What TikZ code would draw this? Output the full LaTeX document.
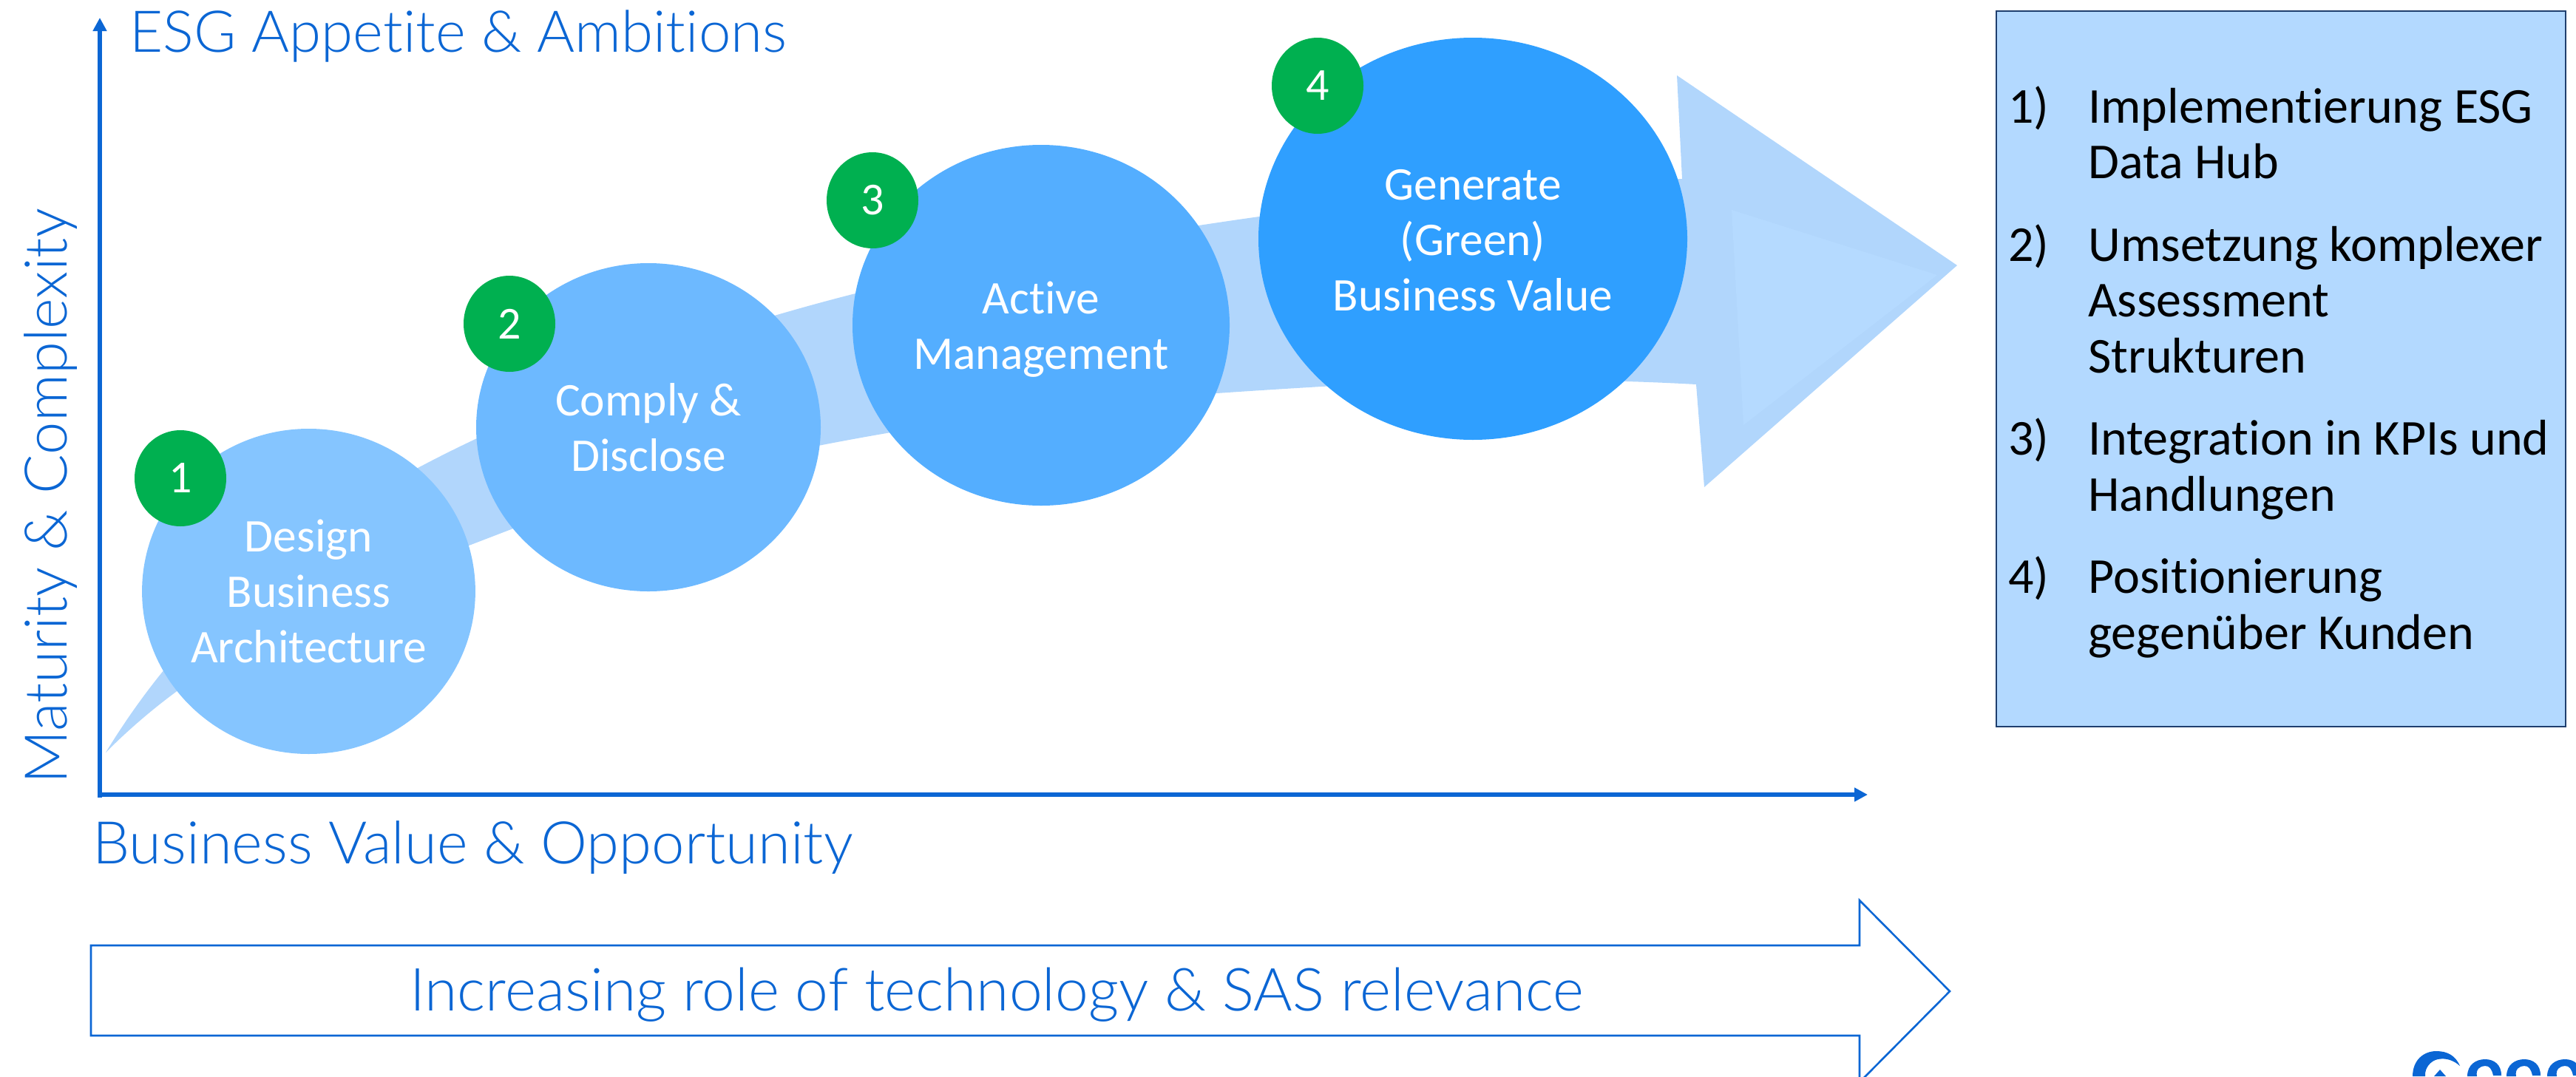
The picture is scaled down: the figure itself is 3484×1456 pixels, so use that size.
\documentclass[tikz,border=0pt]{standalone}
\usepackage{fontspec}
\setmainfont[Ligatures=NoCommon]{Carlito}
\newfontfamily\lightf[UprightFont={* Light},Ligatures=NoCommon]{Lato}
\usetikzlibrary{shapes.geometric,arrows.meta}
\definecolor{sasblue}{HTML}{0B66D4}
\definecolor{bandblue}{HTML}{B1D6FC}
\definecolor{innerblue}{HTML}{B5DAFF}
\definecolor{panelblue}{HTML}{B3D9FF}
\definecolor{panelline}{HTML}{1F3F6E}
\definecolor{stepa}{HTML}{85C5FF}
\definecolor{stepb}{HTML}{6DB9FF}
\definecolor{stepc}{HTML}{54AEFF}
\definecolor{stepd}{HTML}{2F9FFF}
\definecolor{badge}{HTML}{00B050}
\newcommand{\dropline}[2]{\raisebox{-#1}[\height][\depth]{#2}}
\tikzset{
  x=0.5pt,y=-0.5pt,
  stepnode/.style={ellipse,inner sep=0pt,align=center,text=white,font=\fontsize{31.7}{37.5}\selectfont},
  badgenode/.style={ellipse,fill=badge,inner sep=0pt,minimum width=62pt,minimum height=65pt,text=white,font=\fontsize{31}{36}\selectfont},
  axislabel/.style={text=sasblue,inner sep=0pt,font=\lightf\fontsize{39.8}{46}\selectfont},
  axisline/.style={draw=sasblue,line width=3pt,-{Triangle[length=9pt,width=9pt]}},
  listtext/.style={anchor=base west,inner sep=0pt,text=black,font=\fontsize{34}{37.5}\selectfont},
}
\begin{document}
\begin{tikzpicture}
\clip (0,0) rectangle (3484,1456);
% growing band arrow
\path[fill=bandblue] (143,1018)
  .. controls (270,810) and (440,690) .. (643,594)
  .. controls (900,440) and (1300,350) .. (1703,293)
  .. controls (1900,265) and (2100,250) .. (2275,242)
  -- (2268,102) -- (2647,359) -- (2305,659) -- (2294,520)
  .. controls (2150,512) and (2000,512) .. (1787,523)
  .. controls (1500,540) and (1350,555) .. (1205,585)
  .. controls (1000,620) and (850,660) .. (694,715)
  .. controls (500,790) and (300,860) .. cycle;
\path[fill=innerblue] (2342,284) -- (2620,372) -- (2358,575) -- cycle;
% axes
\coordinate (origin) at (135,1075);
\coordinate (ytip) at (135,24);
\coordinate (xtip) at (2526,1075);
\coordinate (ybase) at (135,1079);
\draw[axisline] (ybase) -- (ytip);
\draw[axisline] (origin) -- (xtip);
% steps
\node[stepnode,fill=stepa,minimum width=225pt,minimum height=220pt] (s1) at (417.5,800) {Design\\Business\\Architecture};
\node[stepnode,fill=stepb,minimum width=233pt,minimum height=222pt] (s2) at (877,578) {Comply \&\\Disclose};
\node[stepnode,fill=stepc,minimum width=255pt,minimum height=244pt] (s3) at (1408,440) {\dropline{2.8pt}{Active}\\\dropline{2.8pt}{Management}};
\node[stepnode,fill=stepd,minimum width=290pt,minimum height=272pt] (s4) at (1992,323) {\dropline{1.2pt}{Generate}\\\dropline{1.2pt}{(Green)}\\\dropline{1.2pt}{Business Value}};
\node[badgenode] (b1) at (244,647) {1};
\node[badgenode] (b2) at (689,438) {2};
\node[badgenode] (b3) at (1180,271) {3};
\node[badgenode] (b4) at (1782,116) {4};
% axis labels
\node[axislabel,anchor=west,font=\lightf\fontsize{39}{46}\selectfont] (ly) at (175,49) {ESG Appetite \& Ambitions};
\node[axislabel,anchor=west,rotate=90] (lx) at (69,1061) {Maturity \& Complexity};
\node[axislabel,anchor=west] (lb) at (125,1147) {Business Value \& Opportunity};
% technology arrow
\draw[sasblue,line width=1.3pt,line join=miter] (123,1279) -- (2515,1279) -- (2515,1218) -- (2637,1341) -- (2515,1464) -- (2515,1401) -- (123,1401) -- cycle;
\node[axislabel,font=\lightf\fontsize{40.2}{46}\selectfont] (tech) at (1348,1346) {Increasing role of technology \& SAS relevance};
% panel
\node[draw=panelline,fill=panelblue,line width=1.2pt,minimum width=385pt,minimum height=484pt,inner sep=0pt,anchor=north west] (panel) at (2699,14) {};
\node[listtext] (n1) at (2716,166) {1)};
\node[listtext] (t1) at (2824,166) {Implementierung ESG};
\node[listtext] (t1b) at (2824,241) {Data Hub};
\node[listtext] (n2) at (2716,353) {2)};
\node[listtext] (t2) at (2824,353) {Umsetzung komplexer};
\node[listtext] (t2b) at (2824,428) {Assessment};
\node[listtext] (t2c) at (2824,504) {Strukturen};
\node[listtext] (n3) at (2716,615) {3)};
\node[listtext] (t3) at (2824,615) {Integration in KPIs und};
\node[listtext] (t3b) at (2824,691) {Handlungen};
\node[listtext] (n4) at (2716,802) {4)};
\node[listtext] (t4) at (2824,802) {Positionierung};
\node[listtext] (t4b) at (2824,878) {gegenüber Kunden};
% logo
\fill[sasblue] (3263,1456) .. controls (3263,1434) and (3278,1422) .. (3295,1422) .. controls (3310,1422) and (3321,1428) .. (3327,1442) .. controls (3318,1434) and (3308,1431) .. (3297,1433) .. controls (3288,1435) and (3279,1444) .. (3280,1456) -- cycle;
\fill[sasblue] (3292,1456) -- (3300,1447) -- (3308,1456) -- cycle;
\foreach \xa in {3337,3390,3445}{
  \fill[sasblue] (\xa,1456) .. controls (\xa,1440) and (\xa+12,1433) .. (\xa+24,1433) .. controls (\xa+36,1433) and (\xa+46,1440) .. (\xa+46,1455) -- (\xa+35,1455) .. controls (\xa+33,1446) and (\xa+30,1442) .. (\xa+24,1442) .. controls (\xa+17,1442) and (\xa+11,1447) .. (\xa+13,1456) -- cycle;
}
\end{tikzpicture}
\end{document}
